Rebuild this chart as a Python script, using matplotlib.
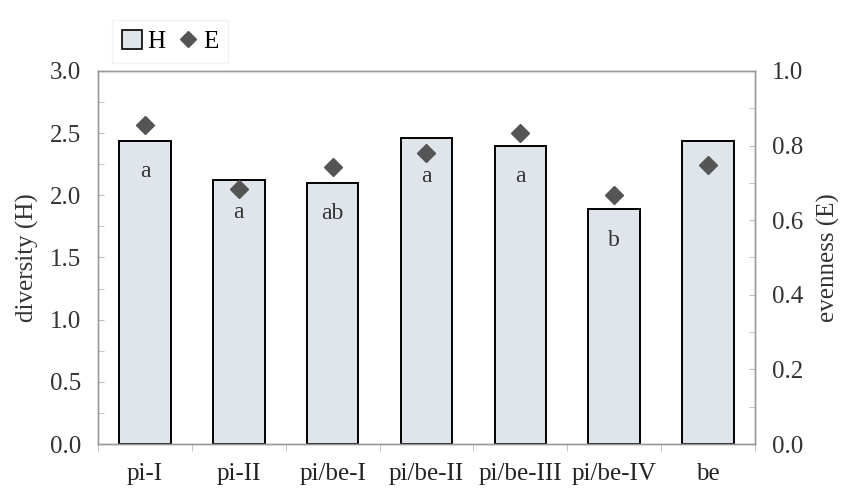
import numpy as np
import matplotlib
matplotlib.use('Agg')
import matplotlib.pyplot as plt
from matplotlib.lines import Line2D
from matplotlib.patches import Patch

# data
sites = ['pi-I', 'pi-II', 'pi/be-I', 'pi/be-II', 'pi/be-III', 'pi/be-IV', 'be']
diversity = [2.44, 2.12, 2.10, 2.46, 2.40, 1.89, 2.44]
evenness = [0.856, 0.684, 0.743, 0.780, 0.833, 0.668, 0.748]
letters = ['a', 'a', 'ab', 'a', 'a', 'b', '']

plt.rcParams['font.family'] = ['Liberation Serif', 'DejaVu Serif']
plt.rcParams['font.size'] = 18

fig = plt.figure(figsize=(8.46, 4.96), dpi=100)
ax = fig.add_axes([0.1158, 0.1048, 0.7766, 0.7521])
ax2 = ax.twinx()

x = np.arange(len(sites))
ax.bar(x, diversity, width=0.55, color='#dfe5ea', edgecolor='black', linewidth=1.4, zorder=2)
ax2.plot(x, evenness, linestyle='none', marker='D', markersize=9, color='#555555', zorder=3)

# letters sit under the bar top, or under the marker when it is lower
for xi, h, e, lab in zip(x, diversity, evenness, letters):
    if lab:
        y = min(h - 0.25, e * 3.0 - 0.19)
        ax.text(xi, y, lab, ha='center', va='center', fontsize=17, color='#333333', zorder=4)

ax.set_xlim(-0.5, len(sites) - 0.5)
ax.set_ylim(0, 3.0)
ax2.set_ylim(0, 1.0)
ax.set_yticks(np.arange(0, 3.01, 0.5))
ax.set_yticklabels(['%.1f' % v for v in np.arange(0, 3.01, 0.5)])
ax.set_yticks(np.arange(0, 3.01, 0.25), minor=True)
ax2.set_yticks(np.arange(0, 1.01, 0.2))
ax2.set_yticklabels(['%.1f' % v for v in np.arange(0, 1.01, 0.2)])
ax2.set_yticks(np.arange(0, 1.01, 0.1), minor=True)

ax.set_xticks(x)
ax.set_xticklabels(sites)
ax.set_xticks(np.arange(-0.5, len(sites), 1.0), minor=True)
ax.tick_params(axis='x', which='major', length=0, pad=14, colors='#222222')
ax.tick_params(axis='x', which='minor', length=5, direction='out', color='#bbbbbb')
ax.tick_params(axis='y', which='both', direction='in', length=4, color='#bbbbbb', labelcolor='#333333', pad=12)
ax2.tick_params(axis='y', which='both', direction='in', length=4, color='#bbbbbb', labelcolor='#333333', pad=12)

for a in (ax, ax2):
    for s in a.spines.values():
        s.set_color('#999999')
        s.set_linewidth(1.0)

ax.set_ylabel('diversity (H)', color='#333333', labelpad=8)
ax2.set_ylabel('evenness (E)', color='#333333', labelpad=10)

handles = [Patch(facecolor='#dfe5ea', edgecolor='black', linewidth=1.2, label='H'),
           Line2D([], [], linestyle='none', marker='D', markersize=8, color='#555555', label='E')]
leg = fig.legend(handles=handles, loc='upper left', bbox_to_anchor=(0.118, 0.985), ncol=2,
                 frameon=True, fontsize=18, handlelength=0.8, handleheight=0.8,
                 handletextpad=0.2, columnspacing=0.5, borderpad=0.4, fancybox=False)
leg.get_frame().set_edgecolor('#f0f0f0')
leg.get_frame().set_linewidth(1.0)

fig.savefig('out.png', dpi=100)
